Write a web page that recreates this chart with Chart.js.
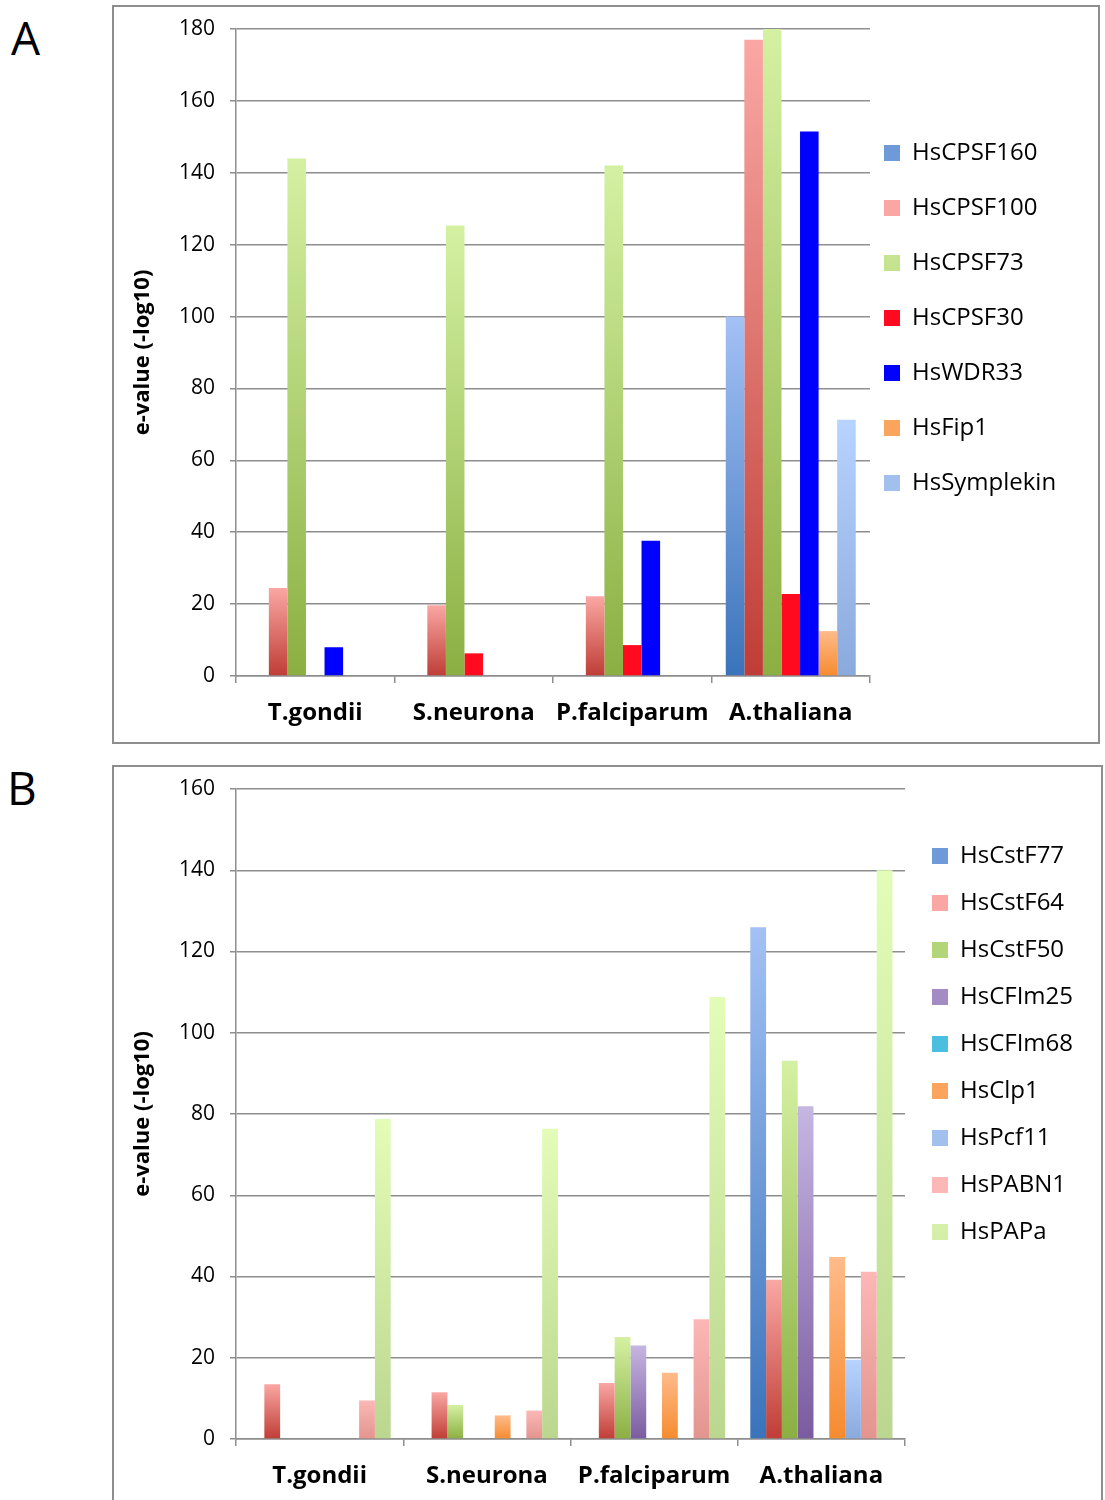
<!DOCTYPE html>
<html>
<head>
<meta charset="utf-8">
<script src="https://cdn.jsdelivr.net/npm/chart.js@4.4.1/dist/chart.umd.min.js"></script>
<style>
  html, body { margin: 0; padding: 0; background: #fff; overflow: hidden; }
  body { width: 1105px; height: 1500px; position: relative; font-family: "Open Sans", sans-serif; }
  .panel { position: absolute; border: 2px solid #8e8e8e; box-sizing: border-box; background: #fff; }
  .panel canvas { position: absolute; left: 0; top: 0; }
  .letter { position: absolute; font-size: 46px; line-height: 46px; color: #000; }
</style>
</head>
<body>
<div class="letter" style="left:11px; top:14px;">A</div>
<div class="letter" style="left:7px; top:764px;">B</div>

<div class="panel" style="left:112px; top:5px; width:988px; height:739px;">
  <canvas id="chartA" width="984" height="735"></canvas>
</div>
<div class="panel" style="left:112px; top:765px; width:991px; height:740px;">
  <canvas id="chartB" width="987" height="736"></canvas>
</div>

<script>
// categories
const species = ['T.gondii', 'S.neurona', 'P.falciparum', 'A.thaliana'];

// panel A: CPSF complex (e-value, -log10)
const hsCPSF160 = [null, null, null, 100];
const hsCPSF100 = [24.5, 19.7, 22.2, 177];
const hsCPSF73 = [144, 125.3, 142, 180];
const hsCPSF30 = [null, 6.3, 8.6, 22.8];
const hsWDR33 = [8, null, 37.6, 151.5];
const hsFip1 = [null, null, null, 12.5];
const hsSymplekin = [null, null, null, 71.3];
const ticksA = [0, 20, 40, 60, 80, 100, 120, 140, 160, 180];

// panel B: CstF / CFIm / others
const hsCstF77 = [null, null, null, 126];
const hsCstF64 = [13.5, 11.5, 13.8, 39.2];
const hsCstF50 = [null, 8.4, 25.1, 93.1];
const hsCFIm25 = [null, null, 23, 81.9];
const hsCFIm68 = [null, null, null, null];
const hsClp1 = [null, 5.8, 16.3, 44.8];
const hsPcf11 = [null, null, null, 19.5];
const hsPABN1 = [9.5, 7.0, 29.5, 41.2];
const hsPAPa = [78.8, 76.4, 108.8, 140];
const ticksB = [0, 20, 40, 60, 80, 100, 120, 140, 160];

const FONT = '"Open Sans", sans-serif';
const GRID = '#8e8e8e';

// vertical gradient per bar, dark at the base, light at the top
function grad(light, dark, mid) {
    return function (c) {
        const chart = c.chart;
        const y = chart.scales && chart.scales.y;
        if (c.type !== 'data' || c.raw == null || !y || !chart.chartArea) return mid;
        const base = y.getPixelForValue(0);
        const top = y.getPixelForValue(c.raw);
        if (!isFinite(top) || Math.abs(top - base) < 1) return dark;
        const g = chart.ctx.createLinearGradient(0, base, 0, top);
        g.addColorStop(0, dark);
        g.addColorStop(1, light);
        return g;
    };
}

// move the legend to a fixed spot beside the plot
const placeLegend = {
    id: 'placeLegend',
    afterLayout(chart, args, opts) {
        const lg = chart.legend;
        const pad = chart.options.plugins.legend.labels.padding;
        const w = lg.width;
        lg.left = opts.x - pad;
        lg.right = lg.left + w;
        lg.top = opts.y - pad;
        lg.bottom = chart.height;
    }
};

function makeChart(id, datasets, yMax, ticks, o) {
    return new Chart(document.getElementById(id), {
        type: 'bar',
        data: { labels: species, datasets: datasets },
        plugins: [placeLegend],
        options: {
            responsive: false,
            animation: false,
            categoryPercentage: o.catPct,
            barPercentage: 1,
            borderWidth: 0,
            layout: { padding: { left: 0, top: 22, right: o.padRight, bottom: 0 } },
            scales: {
                x: {
                    grid: { drawOnChartArea: false, drawTicks: true, tickLength: 7, color: GRID, lineWidth: 1.5 },
                    border: { color: GRID, width: 1.5 },
                    ticks: {
                        color: '#000', padding: 16, autoSkip: false, maxRotation: 0, minRotation: 0,
                        font: { family: FONT, size: 24, weight: 'bold' }
                    },
                    afterFit: s => { s.height = o.xHeight; }
                },
                y: {
                    min: 0,
                    max: yMax,
                    afterBuildTicks: s => { s.ticks = ticks.map(v => ({ value: v })); },
                    grid: { color: GRID, lineWidth: 1.5, tickLength: 6 },
                    border: { color: GRID, width: 1.5 },
                    ticks: { color: '#000', padding: 15, font: { family: FONT, size: 21 } },
                    title: {
                        display: true,
                        text: 'e-value (-log10)',
                        color: '#000',
                        padding: { top: 16, bottom: 0 },
                        font: { family: FONT, size: 22, weight: 'bold' }
                    },
                    afterFit: s => { s.width = 122; s.paddingTop = 0; s.paddingBottom = 0; }
                }
            },
            plugins: {
                legend: {
                    position: 'chartArea',
                    align: 'start',
                    labels: {
                        boxWidth: 16,
                        boxHeight: 16,
                        padding: o.legendPad,
                        color: '#000',
                        font: { family: FONT, size: 24 }
                    }
                },
                tooltip: { enabled: false },
                placeLegend: { x: o.legendX, y: o.legendY }
            }
        }
    });
}

function drawAll() {
    makeChart('chartA', [
        { label: 'HsCPSF160', data: hsCPSF160, backgroundColor: grad('#a3c1f5', '#3a73ba', '#6f9ad8') },
        { label: 'HsCPSF100', data: hsCPSF100, backgroundColor: grad('#faa7a3', '#bf3d36', '#e2726c') },
        { label: 'HsCPSF73', data: hsCPSF73, backgroundColor: grad('#d4f1a3', '#8baf42', '#b3d57a') },
        { label: 'HsCPSF30', data: hsCPSF30, backgroundColor: '#ff0a1e' },
        { label: 'HsWDR33', data: hsWDR33, backgroundColor: '#0000ff' },
        { label: 'HsFip1', data: hsFip1, backgroundColor: grad('#ffbb8a', '#f58b2f', '#fba45e') },
        { label: 'HsSymplekin', data: hsSymplekin, backgroundColor: grad('#b7d3ff', '#8aaadc', '#a2c0ee') }
    ], 180, ticksA, { catPct: 0.82, padRight: 228, xHeight: 66, legendPad: 31, legendX: 770, legendY: 134 });

    makeChart('chartB', [
        { label: 'HsCstF77', data: hsCstF77, backgroundColor: grad('#a3c1f5', '#3a73ba', '#6f9ad8') },
        { label: 'HsCstF64', data: hsCstF64, backgroundColor: grad('#faa7a3', '#bf3d36', '#e2726c') },
        { label: 'HsCstF50', data: hsCstF50, backgroundColor: grad('#d4f1a3', '#8baf42', '#b3d57a') },
        { label: 'HsCFIm25', data: hsCFIm25, backgroundColor: grad('#c6b6e2', '#7a5b9f', '#a38cc4') },
        { label: 'HsCFIm68', data: hsCFIm68, backgroundColor: grad('#6fd3ee', '#31a5c8', '#4bbfe0') },
        { label: 'HsClp1', data: hsClp1, backgroundColor: grad('#ffbb8a', '#f58b2f', '#fba45e') },
        { label: 'HsPcf11', data: hsPcf11, backgroundColor: grad('#b7d3ff', '#8aaadc', '#a2c0ee') },
        { label: 'HsPABN1', data: hsPABN1, backgroundColor: grad('#fbb8b6', '#e3948e', '#f0a7a3') },
        { label: 'HsPAPa', data: hsPAPa, backgroundColor: grad('#e3fdb8', '#bbd68f', '#d2ecaa') }
    ], 160, ticksB, { catPct: 0.85, padRight: 196, xHeight: 64, legendPad: 23, legendX: 818, legendY: 77 });
}

Promise.all([
    document.fonts.load('24px "Open Sans"'),
    document.fonts.load('bold 24px "Open Sans"')
]).then(drawAll, drawAll);
</script>
</body>
</html>
